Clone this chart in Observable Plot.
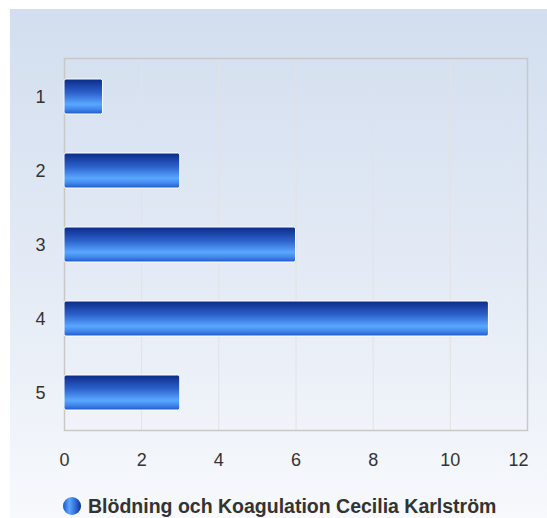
<!DOCTYPE html>
<html>
<head>
<meta charset="utf-8">
<script src="https://cdn.jsdelivr.net/npm/d3@7"></script>
<script src="https://cdn.jsdelivr.net/npm/@observablehq/plot@0.6"></script>
<style>
  html, body { margin: 0; padding: 0; background: #ffffff; }
  #wrap { position: relative; width: 547px; height: 518px; overflow: hidden; font-family: "Liberation Sans", Arial, sans-serif; }
  #bg { position: absolute; left: 10px; top: 9px; right: 0; bottom: 0;
        background: linear-gradient(to bottom, #d2deef 0%, #e3eaf5 50%, #f7f9fc 100%); }
  #chart { position: absolute; left: 0; top: 0; }
  #legend { position: absolute; left: 63px; top: 494px; height: 24px; display: flex; align-items: center;
            font-size: 19.5px; font-weight: bold; color: #333333; white-space: nowrap; }
  #legend .dot { width: 18px; height: 18px; border-radius: 50%; margin-right: 7px;
            background: linear-gradient(to right, #1e58c8 0%, #5aa6ff 35%, #2f6bd6 70%, #0c2f8c 100%); }
</style>
</head>
<body>
<div id="wrap">
  <div id="bg"></div>
  <div id="chart"></div>
  <div id="legend"><div class="dot"></div><span id="legendText"></span></div>
</div>
<script>
const categories = ["1", "2", "3", "4", "5"];
const values = [1, 3, 6, 11, 3];
const xTicks = [0, 2, 4, 6, 8, 10, 12];
const seriesName = "Blödning och Koagulation Cecilia Karlström";

const data = categories.map((c, i) => ({cat: c, value: values[i]}));
const innerTicks = xTicks.slice(0, -1);
const lastTick = xTicks.slice(-1);

const plot = Plot.plot({
  width: 547,
  height: 480,
  marginLeft: 64,
  marginRight: 20,
  marginTop: 58,
  marginBottom: 50,
  style: {background: "transparent", fontFamily: "Liberation Sans, Arial, sans-serif", fontSize: "18px", color: "#333333"},
  x: {domain: [0, 12], ticks: xTicks, label: null},
  y: {domain: categories, paddingInner: 0.53, paddingOuter: 0.265, label: null},
  marks: [
    Plot.gridX(xTicks, {stroke: "#e2e2e2", strokeOpacity: 1, strokeWidth: 1}),
    Plot.frame({stroke: "#c8c8c8", strokeWidth: 1.5}),
    Plot.barX(data, {x1: 0, x2: "value", y: "cat", fill: "url(#barGrad)", stroke: "#ffffff", strokeWidth: 1, rx: 2}),
    Plot.axisX({ticks: innerTicks, tickSize: 0, tickPadding: 23, fontSize: 18, fill: "#333333", label: null}),
    Plot.axisX({ticks: lastTick, tickSize: 0, tickPadding: 23, fontSize: 18, fill: "#333333", label: null, textAnchor: "end", dx: 1}),
    Plot.axisY({tickSize: 0, tickPadding: 19, fontSize: 18, fill: "#333333", label: null})
  ]
});

const ns = "http://www.w3.org/2000/svg";
const defs = document.createElementNS(ns, "defs");
const grad = document.createElementNS(ns, "linearGradient");
grad.setAttribute("id", "barGrad");
grad.setAttribute("x1", "0"); grad.setAttribute("y1", "0");
grad.setAttribute("x2", "0"); grad.setAttribute("y2", "1");
[["0%", "#0b2a88"], ["40%", "#2c63cc"], ["72%", "#5aa7ff"], ["86%", "#4288ec"], ["100%", "#1e58c8"]].forEach(([o, c]) => {
  const s = document.createElementNS(ns, "stop");
  s.setAttribute("offset", o); s.setAttribute("stop-color", c);
  grad.appendChild(s);
});
defs.appendChild(grad);
plot.insertBefore(defs, plot.firstChild);

document.getElementById("chart").appendChild(plot);
document.getElementById("legendText").textContent = seriesName;
</script>
</body>
</html>
